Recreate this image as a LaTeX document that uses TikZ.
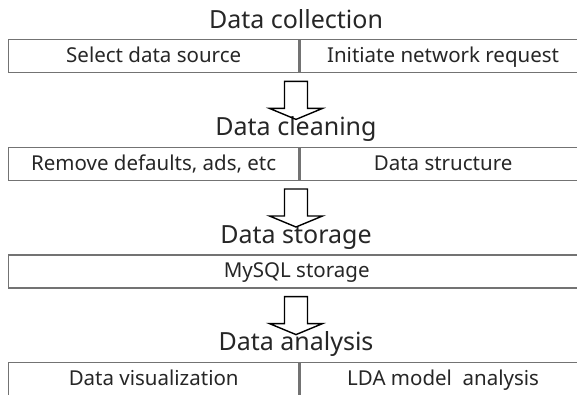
\documentclass[tikz,border=0pt]{standalone}
\usepackage{fontspec}
\setmainfont{Noto Sans}
\usetikzlibrary{calc}
\tikzset{heading/.style={font=\fontsize{25}{29}\selectfont, text=black!85, anchor=base, inner sep=0pt}}
\tikzset{cell/.style={draw=black!55, line width=1.4pt, font=\fontsize{20.5}{24}\selectfont, text=black!85, text height=15pt, text depth=2pt, minimum height=33pt, inner sep=0pt, anchor=north west}}
\tikzset{blockarrow/.style={draw=black, line width=1.4pt, line join=miter}}
\tikzset{pics/downarrow/.style={code={
  \draw[blockarrow] (-11.5,0) -- (11.5,0) -- (11.5,27) -- (26.5,27) -- (0,38) -- (-26.5,27) -- (-11.5,27) -- cycle;
}}}

\begin{document}
\begin{tikzpicture}[x=1pt,y=-1pt]
  \useasboundingbox (0,0) rectangle (577,394);
  \foreach \y/\lab/\txt in {
    28/t1/Data collection,
    135.6/t2/Data cleaning,
    243.2/t3/Data storage,
    350.8/t4/Data analysis%
  } {
    \node[heading] (\lab) at (296,\y) {\txt};
  }
  \foreach \y/\lab/\ltxt/\rtxt in {
    39/b1/Select data source/Initiate network request,
    146.6/b2/{Remove defaults, ads, etc}/Data structure,
    361.8/b4/Data visualization/LDA model\ \ analysis%
  } {
    \node[cell, minimum width=290pt] (\lab l) at (8,\y) {\ltxt};
    \node[cell, minimum width=286pt] (\lab r) at (\lab l.north east) {\rtxt};
  }
  \node[cell, minimum width=576pt] (b3) at (8,254.2) {MySQL storage};
  \foreach \u/\v in {
    b1l/t2,
    b2l/t3,
    b3/t4%
  } {
    \pic at ($(\u.south -| \v.base)+(0,8)$) {downarrow};
  }
\end{tikzpicture}
\end{document}
